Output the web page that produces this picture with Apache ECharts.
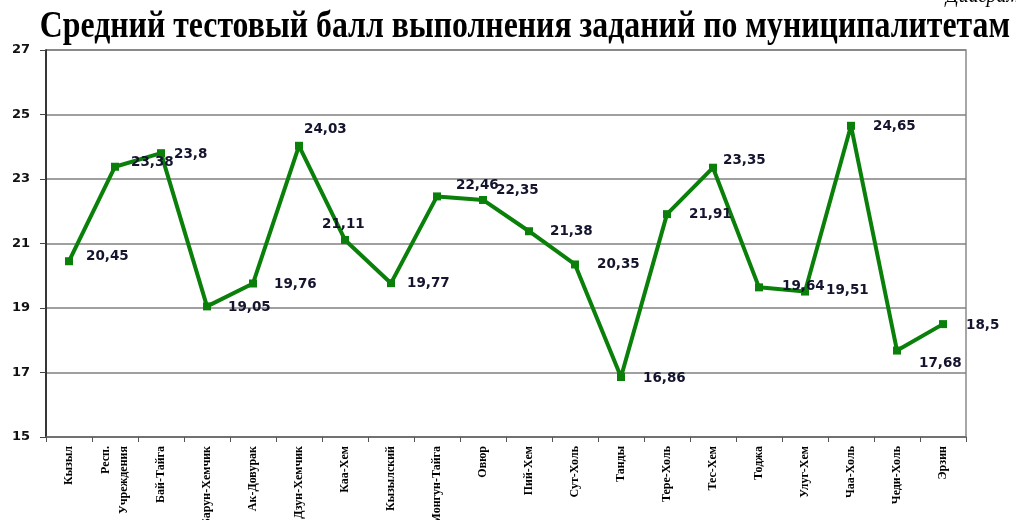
<!DOCTYPE html>
<html>
<head>
<meta charset="utf-8">
<script src="https://cdn.jsdelivr.net/npm/echarts@6/dist/echarts.min.js"></script>
<style>
  html, body { margin: 0; padding: 0; background: #fff; }
  #chart { width: 1016px; height: 520px; }
</style>
</head>
<body>
<div id="chart"></div>
<script>
const municipalities = [
  'Кызыл', 'Респ.\nУчреждения', 'Бай-Тайга', 'Барун-Хемчик', 'Ак-Довурак',
  'Дзун-Хемчик', 'Каа-Хем', 'Кызылский', 'Монгун-Тайга', 'Овюр',
  'Пий-Хем', 'Сут-Холь', 'Танды', 'Тере-Холь', 'Тес-Хем',
  'Тоджа', 'Улуг-Хем', 'Чаа-Холь', 'Чеди-Холь', 'Эрзин'
]
const avgScore = [
  20.45, 23.38, 23.8, 19.05, 19.76,
  24.03, 21.11, 19.77, 22.46, 22.35,
  21.38, 20.35, 16.86, 21.91, 23.35,
  19.64, 19.51, 24.65, 17.68, 18.5
]
const yTicks = [15, 17, 19, 21, 23, 25, 27]

// label nudges, to sit the numbers roughly where the original put them
const labelShift = [
  [3, -5], [2, -4], [-1, 1], [7, 1], [7, 1],
  [-9, -16], [-37, -15], [2, 0], [5, -11], [-1, -9],
  [7, 0], [8, 0], [8, 1], [8, 0], [-4, -7],
  [9, -1], [7, -1], [8, 1], [8, 13], [9, 1]
]

const fmt = (v) => String(v).replace('.', ',')

const chart = echarts.init(document.getElementById('chart'))

const option = {
  backgroundColor: '#fff',
  animation: false,
  graphic: [
    {
      type: 'text',
      left: 946,
      top: -13,
      style: {
        text: 'Диаграмма 1',
        font: 'italic 20px "Liberation Serif"',
        fill: '#000'
      }
    },
    {
      type: 'text',
      x: 525,
      y: 27,
      scaleX: 1.06,
      scaleY: 1.25,
      style: {
        text: 'Средний тестовый балл выполнения заданий по муниципалитетам',
        font: 'bold 30px "Liberation Serif"',
        fill: '#000',
        align: 'center',
        verticalAlign: 'middle'
      }
    }
  ],
  grid: {
    left: 46,
    right: 50,
    top: 50,
    bottom: 83,
    outerBoundsMode: 'none',
    containLabel: false,
    show: true,
    borderColor: '#8a8a8a',
    borderWidth: 1.5
  },
  xAxis: {
    type: 'category',
    data: municipalities,
    boundaryGap: true,
    axisLine: { lineStyle: { color: '#6a6a6a', width: 1.5 } },
    axisTick: { show: true, length: 5, lineStyle: { color: '#555' } },
    axisLabel: {
      rotate: 90,
      interval: 0,
      margin: 9,
      fontFamily: 'Liberation Serif',
      fontWeight: 'bold',
      fontSize: 12,
      lineHeight: 18,
      color: '#000'
    }
  },
  yAxis: {
    type: 'value',
    min: yTicks[0],
    max: yTicks[yTicks.length - 1],
    interval: 2,
    axisLine: { show: true, lineStyle: { color: '#111', width: 1.5 } },
    axisTick: { show: true, length: 6, lineStyle: { color: '#444' } },
    splitLine: { lineStyle: { color: '#808080', width: 1.5 } },
    axisLabel: {
      margin: 16,
      fontFamily: 'DejaVu Sans',
      fontWeight: 'bold',
      fontSize: 13,
      color: '#111'
    }
  },
  series: [
    {
      type: 'line',
      data: avgScore.map((v, i) => ({
        value: v,
        label: { offset: labelShift[i] }
      })),
      lineStyle: { color: '#0a800a', width: 4 },
      itemStyle: { color: '#0a800a' },
      symbol: 'rect',
      symbolSize: 8,
      label: {
        show: true,
        position: 'right',
        distance: 10,
        formatter: (p) => fmt(p.value),
        fontFamily: 'DejaVu Sans',
        fontWeight: 'bold',
        fontSize: 13.5,
        color: '#14142e'
      }
    }
  ]
}

chart.setOption(option)
</script>
</body>
</html>
